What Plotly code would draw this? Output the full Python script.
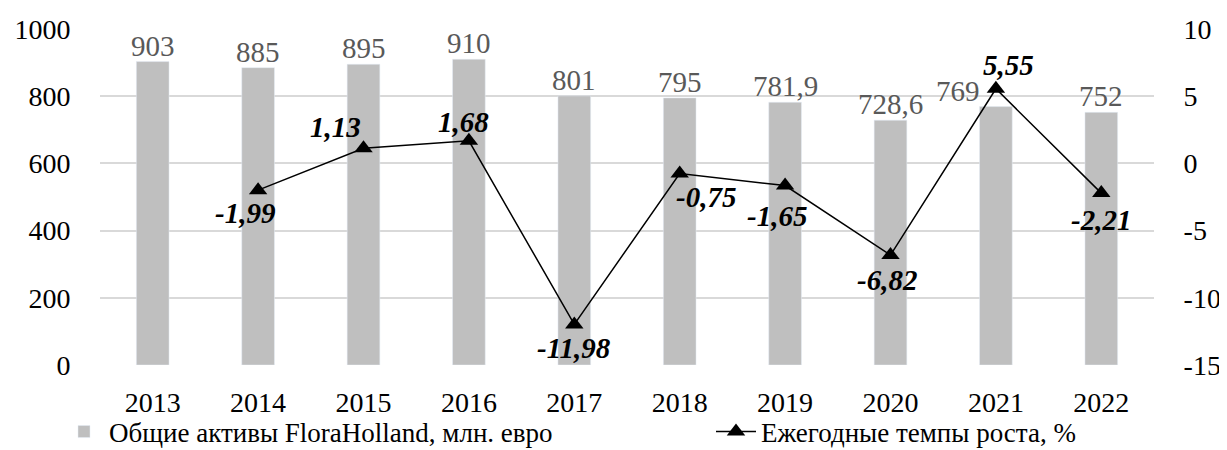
import plotly.graph_objects as go

years = [2013, 2014, 2015, 2016, 2017, 2018, 2019, 2020, 2021, 2022]
assets = [903, 885, 895, 910, 801, 795, 781.9, 728.6, 769, 752]
asset_labels = ["903", "885", "895", "910", "801", "795", "781,9", "728,6", "769", "752"]
growth_years = [2014, 2015, 2016, 2017, 2018, 2019, 2020, 2021, 2022]
growth = [-1.99, 1.13, 1.68, -11.98, -0.75, -1.65, -6.82, 5.55, -2.21]
growth_labels = ["-1,99", "1,13", "1,68", "-11,98", "-0,75", "-1,65", "-6,82", "5,55", "-2,21"]
left_ticks = [0, 200, 400, 600, 800, 1000]
right_ticks = [-15, -10, -5, 0, 5, 10]
right_tick_labels = ["-15", "-10", "-5", "0", "5", "10"]

# label offsets (style only)
bar_label_shift = [(0, 0)] * 8 + [(-38, 0), (0, 0)]
growth_label_shift = [(-13, -23), (-28, 21), (-5, 19), (0, -24), (26, -24),
                      (-8, -30), (-4, -25), (13, 24), (0, -27)]

FONT = "Liberation Serif, Times New Roman, serif"
TICK = dict(family=FONT, size=28, color="black")
W, H = 1227, 442

fig = go.Figure()
fig.add_trace(go.Bar(
    x=years, y=assets, name="Общие активы FloraHolland, млн. евро",
    marker=dict(color="#BFBFBF"), width=0.31, yaxis="y", legend="legend",
))
fig.add_trace(go.Scatter(
    x=growth_years, y=growth, name="Ежегодные темпы роста, %",
    mode="lines+markers", line=dict(color="black", width=1.5),
    marker=dict(symbol="triangle-up", size=16, color="black"), yaxis="y2",
    legend="legend2",
))

annotations = []
for x, v, t, (dx, dy) in zip(years, assets, asset_labels, bar_label_shift):
    annotations.append(dict(x=x, y=v, xref="x", yref="y", text=t, showarrow=False,
                            yanchor="bottom", xshift=dx, yshift=-2 + dy,
                            font=dict(family=FONT, size=29, color="#595959")))
for x, v, t, (dx, dy) in zip(growth_years, growth, growth_labels, growth_label_shift):
    annotations.append(dict(x=x, y=v, xref="x", yref="y2", text="<b><i>" + t + "</i></b>",
                            showarrow=False, xshift=dx, yshift=dy,
                            font=dict(family=FONT, size=29, color="black")))

legend_common = dict(orientation="h", yref="container", y=1 - 424 / H, yanchor="middle",
                     xref="container", xanchor="left",
                     font=dict(family=FONT, size=27, color="black"), itemwidth=40,
                     bgcolor="rgba(0,0,0,0)")

fig.update_layout(
    width=W, height=H,
    margin=dict(l=92, r=81, t=21, b=85, autoexpand=False),
    paper_bgcolor="white", plot_bgcolor="white",
    font=dict(family=FONT, size=28, color="black"),
    showlegend=True,
    legend=dict(x=51 / W, **legend_common),
    legend2=dict(x=703 / W, **legend_common),
    xaxis=dict(range=[2012.5, 2022.5], tickvals=years, showgrid=False, showline=False,
               zeroline=False, ticks="outside", ticklen=12, tickcolor="rgba(0,0,0,0)",
               tickfont=TICK, automargin=False),
    yaxis=dict(range=[0, 1000], tickvals=left_ticks, showgrid=True, gridcolor="#D9D9D9",
               gridwidth=1.5, zeroline=False, showline=False, automargin=False,
               ticks="outside", ticklen=23, tickcolor="rgba(0,0,0,0)", tickfont=TICK),
    yaxis2=dict(range=[-15, 10], tickvals=right_ticks, ticktext=right_tick_labels,
                overlaying="y", side="right", showgrid=False, zeroline=False, showline=False,
                automargin=False,
                ticks="outside", ticklen=23, tickcolor="rgba(0,0,0,0)", tickfont=TICK),
    annotations=annotations,
)

fig.write_html("out.html")
